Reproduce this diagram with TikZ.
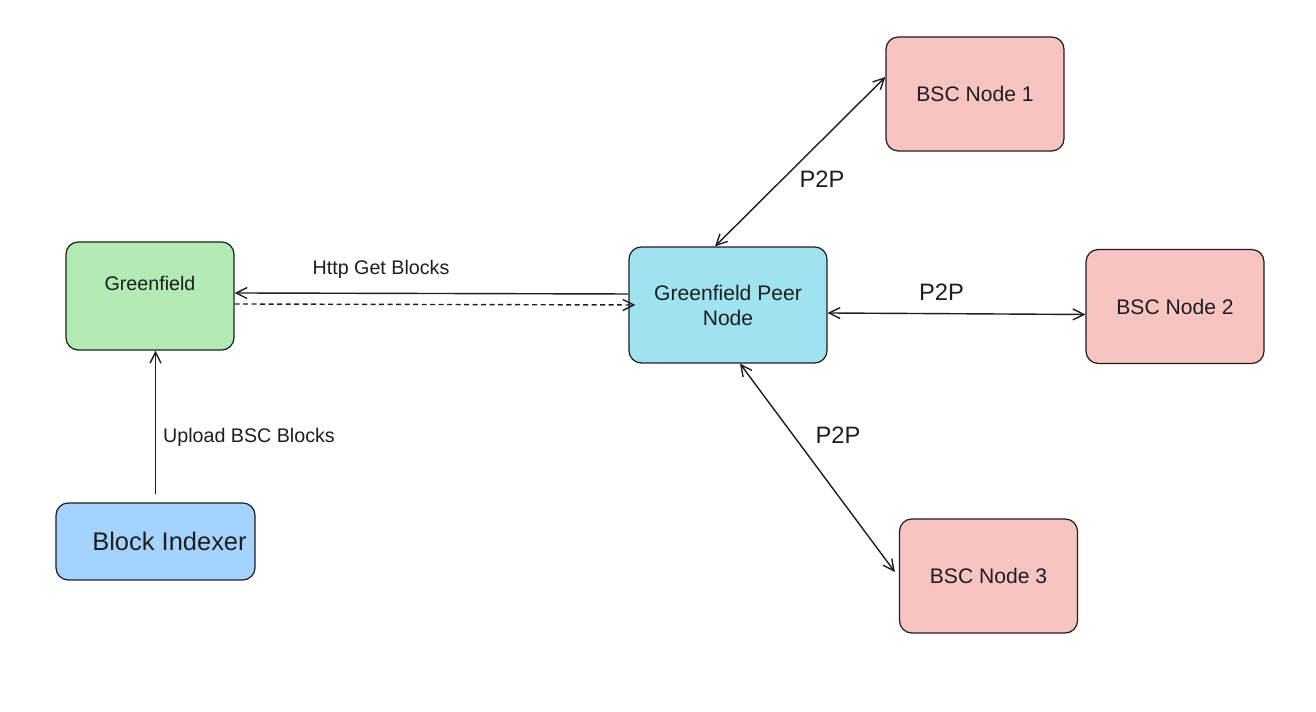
\documentclass[tikz,border=0pt]{standalone}
\usepackage{fontspec}
\setmainfont{Liberation Sans}
\usetikzlibrary{positioning, arrows.meta}
\definecolor{GfGreen}{RGB}{178,235,180}
\definecolor{IdxBlue}{RGB}{165,211,255}
\definecolor{PeerCyan}{RGB}{158,227,239}
\definecolor{BscPink}{RGB}{247,196,193}
\definecolor{InkGray}{RGB}{30,30,30}

\begin{document}
\begin{tikzpicture}
  \tikzstyle{box} = [rectangle, draw=InkGray, line width=0.7pt, rounded corners=7pt, text=InkGray]
  \tikzstyle{bsc} = [box, fill=BscPink, minimum width=3.56cm, minimum height=2.28cm, font=\fontsize{12}{14}\selectfont]
  \tikzstyle{arr} = [draw=InkGray, line width=0.8pt, -{Straight Barb[length=2.2mm,width=2.2mm]}]
  \tikzstyle{both} = [arr, {Straight Barb[length=2.2mm,width=2.2mm]}-{Straight Barb[length=2.2mm,width=2.2mm]}]
  \tikzstyle{lbl} = [text=InkGray, font=\fontsize{11.2}{13}\selectfont]
  \tikzstyle{p2p} = [text=InkGray, font=\fontsize{13.5}{16}\selectfont]

  \useasboundingbox (0,0) rectangle (26.32,14.24);

  % Nodos de la izquierda
  \node[box, fill=GfGreen, minimum width=3.36cm, minimum height=2.16cm,
    label={[lbl, yshift=0.26cm]center:Greenfield}] (gf) at (3.0, 8.32) {};
  \node[box, fill=IdxBlue, minimum width=3.98cm, minimum height=1.54cm,
    label={[text=InkGray, font=\fontsize{14.5}{17}\selectfont, xshift=0.28cm]center:Block Indexer}] (idx) at (3.11, 3.41) {};

  % Nodo central
  \node[box, fill=PeerCyan, minimum width=3.96cm, minimum height=2.32cm, align=center,
    font=\fontsize{12}{14.2}\selectfont] (peer) at (14.56, 8.14) {Greenfield Peer\\Node};

  % Nodos BSC
  \foreach \x/\y [count=\i] in {19.5/12.36, 23.5/8.11, 19.77/2.72}
    \node[bsc] (bsc\i) at (\x,\y) {BSC Node \i};

  % Flechas
  \draw[arr] ([yshift=0.22cm]peer.west) -- ([yshift=0.06cm]gf.east);
  \draw[arr, dash pattern=on 1mm off 0.7mm] ([yshift=-0.16cm]gf.east) -- ([xshift=0.14cm]peer.west);
  \draw[arr] ([yshift=0.16cm]idx.north) -- (idx.north |- gf.south);
  \draw[both] ([xshift=-0.26cm]peer.north) -- ([yshift=0.34cm]bsc1.west);
  \draw[both] ([yshift=-0.16cm]peer.east) -- ([yshift=-0.16cm]bsc2.west);
  \draw[both] ([xshift=0.24cm]peer.south) -- ([xshift=-0.08cm, yshift=0.08cm]bsc3.west);

  % Etiquetas
  \node[lbl] (httpLbl) at (7.62, 8.86) {Http Get Blocks};
  \node[lbl] (uploadLbl) at (4.98, 5.5) {Upload BSC Blocks};
  \node[p2p] (p2pA) at (16.44, 10.66) {P2P};
  \node[p2p] (p2pB) at (18.83, 8.4) {P2P};
  \node[p2p] (p2pC) at (16.76, 5.53) {P2P};
\end{tikzpicture}
\end{document}
